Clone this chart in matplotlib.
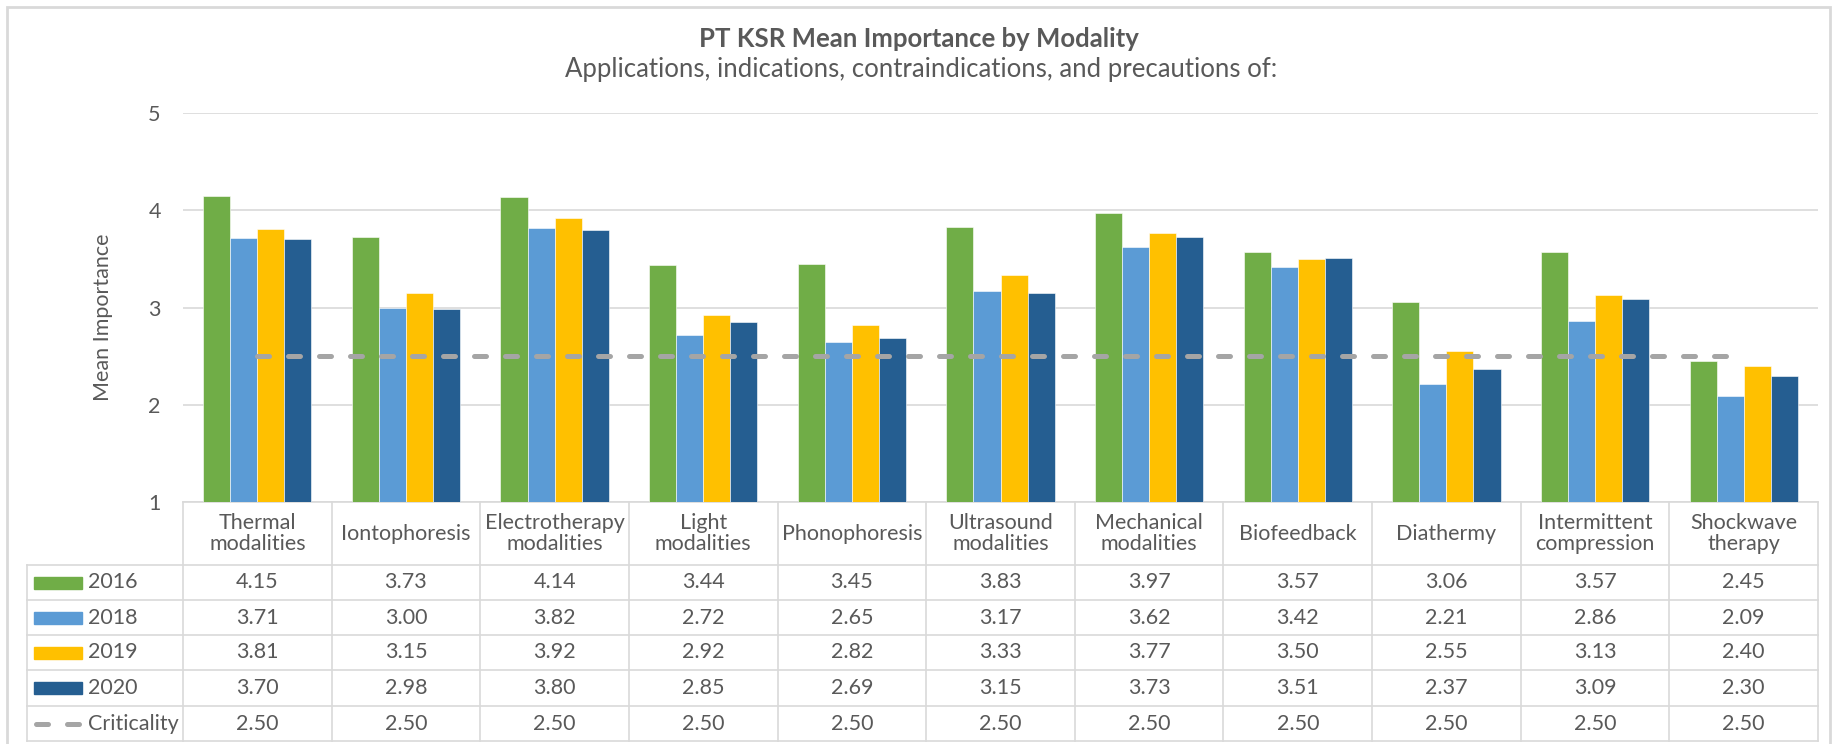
import matplotlib
matplotlib.use('Agg')
import matplotlib.pyplot as plt
from matplotlib.patches import Rectangle
import numpy as np

plt.rcParams['font.family'] = ['Lato', 'DejaVu Sans']

categories = ["Thermal\nmodalities", "Iontophoresis", "Electrotherapy\nmodalities",
              "Light\nmodalities", "Phonophoresis", "Ultrasound\nmodalities",
              "Mechanical\nmodalities", "Biofeedback", "Diathermy",
              "Intermittent\ncompression", "Shockwave\ntherapy"]
years = ["2016", "2018", "2019", "2020"]
v2016 = [4.15, 3.73, 4.14, 3.44, 3.45, 3.83, 3.97, 3.57, 3.06, 3.57, 2.45]
v2018 = [3.71, 3.00, 3.82, 2.72, 2.65, 3.17, 3.62, 3.42, 2.21, 2.86, 2.09]
v2019 = [3.81, 3.15, 3.92, 2.92, 2.82, 3.33, 3.77, 3.50, 2.55, 3.13, 2.40]
v2020 = [3.70, 2.98, 3.80, 2.85, 2.69, 3.15, 3.73, 3.51, 2.37, 3.09, 2.30]
criticality = [2.50] * 11

series = [v2016, v2018, v2019, v2020]
colors = ['#70AD47', '#5B9BD5', '#FFC000', '#255E91']
crit_color = '#A5A5A5'
txt = '#595959'
grid = '#D9D9D9'

W, H = 1838, 744
fig = plt.figure(figsize=(W / 100, H / 100), dpi=100)

# plot area in pixels
px_l, px_r, px_t, px_b = 183, 1818, 113, 502
ax = fig.add_axes([px_l / W, 1 - px_b / H, (px_r - px_l) / W, (px_b - px_t) / H])
n = len(categories)
x = np.arange(n)
bw = 0.182
for k, vals in enumerate(series):
    ax.bar(x + (k - 1.5) * bw, vals, bw, color=colors[k], edgecolor='white',
           linewidth=0.4, zorder=3, bottom=0)
ax.plot(x, criticality, color=crit_color, lw=3.6, dashes=(2.4, 3.8),
        dash_capstyle='round', zorder=4)

ax.set_xlim(-0.5, n - 0.5)
ax.set_ylim(1, 5)
ax.set_yticks([1, 2, 3, 4, 5])
ax.tick_params(axis='y', length=0, pad=16, labelsize=15.5, labelcolor=txt)
ax.set_xticks([])
ax.grid(axis='y', color=grid, lw=1.2, zorder=0)
for s in ax.spines.values():
    s.set_visible(False)
ax.set_ylabel("Mean Importance", fontsize=15.5, color=txt)
ax.yaxis.set_label_coords(-0.043, 0.475)

# table below the plot, x in data units, y in axes fraction
xt = ax.get_xaxis_transform()
unit = (px_r - px_l) / n
def fy(py):
    return (px_b - py) / (px_b - px_t)

x_left = -0.5 - (px_l - 27) / unit
rows = [565, 600, 635, 670, 706, 741]
lkw = dict(transform=xt, clip_on=False, color=grid, lw=1.2)

ax.plot([-0.5, n - 0.5], [fy(px_b)] * 2, **lkw)
for r in rows:
    ax.plot([x_left, n - 0.5], [fy(r)] * 2, **lkw)
for i in range(n + 1):
    ax.plot([i - 0.5] * 2, [fy(px_b), fy(rows[-1])], **lkw)
ax.plot([x_left] * 2, [fy(rows[0]), fy(rows[-1])], **lkw)

fs = 15.5
for i, c in enumerate(categories):
    ax.text(i, fy((px_b + rows[0]) / 2), c, transform=xt, ha='center', va='center',
            fontsize=fs, color=txt, linespacing=1.1, clip_on=False)

labels = years + ["Criticality"]
all_vals = series + [criticality]
sw_x0 = x_left + (34 - 27) / unit
sw_w = 48 / unit
for j, (lab, vals) in enumerate(zip(labels, all_vals)):
    yc = fy((rows[j] + rows[j + 1]) / 2)
    if j < 4:
        ax.add_patch(Rectangle((sw_x0, yc - 6 / (px_b - px_t)), sw_w, 12 / (px_b - px_t),
                               transform=xt, clip_on=False, color=colors[j]))
    else:
        for a, b in [(36.5, 48.5), (67.5, 79.5)]:
            ax.plot([x_left + (a - 27) / unit, x_left + (b - 27) / unit], [yc, yc],
                    transform=xt, clip_on=False, color=crit_color, lw=3.6,
                    solid_capstyle='round')
    ax.text(x_left + (88 - 27) / unit, yc, lab, transform=xt, ha='left', va='center',
            fontsize=fs, color=txt, clip_on=False)
    for i, v in enumerate(vals):
        ax.text(i, yc, f"{v:.2f}", transform=xt, ha='center', va='center',
                fontsize=fs, color=txt, clip_on=False)

# chart border and titles
fig.patches.append(Rectangle((7 / W, -0.01), (1830 - 7) / W, 1 - 7 / H + 0.01,
                             transform=fig.transFigure, fill=False,
                             edgecolor=grid, lw=2))
fig.text(0.5, 1 - 39 / H, "PT KSR Mean Importance by Modality", ha='center', va='center',
         fontsize=18.5, fontweight='bold', color=txt)
fig.text(0.501, 1 - 70 / H, "Applications, indications, contraindications, and precautions of:",
         ha='center', va='center', fontsize=18.5, color=txt)

fig.savefig('out.png', dpi=100)
